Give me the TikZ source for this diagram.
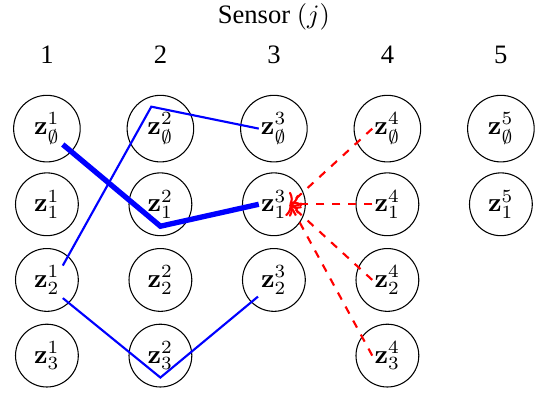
\documentclass[tikz,border=0pt]{standalone}
\usepackage{amssymb}
\usepackage[no-math]{fontspec}
\setmainfont{Liberation Serif}
\usetikzlibrary{positioning, arrows.meta}

\begin{document}
\begin{tikzpicture}[meas/.style={draw, circle, inner sep=3.3pt, minimum size=0.83cm}, clutter/.style={meas, minimum size=0.88cm}]
                \useasboundingbox (-0.62,-3.51) rectangle (6.53,1.70);
                \node (Sensor) at (3,1.48) {Sensor $(j)$};
                \node (col 1) at (0,0.98) {1};
                \node (col 2) at (1.5,0.98) {2};
                \node (col 3) at (3,0.98) {3};
                \node (col 4) at (4.5,0.98) {4};
                \node (col 5) at (6,0.98) {5};

                \node[clutter] (z1-0) at (0,0) {$\mathbf{z}^1_\emptyset$};
                \node[meas] (z1-1) at (0,-1) {$\mathbf{z}^1_1$};
                \node[meas] (z1-2) at (0,-2) {$\mathbf{z}^1_2$};
                \node[meas] (z1-3) at (0,-3) {$\mathbf{z}^1_3$};
                \node[clutter] (z2-0) at (1.5,0) {$\mathbf{z}^2_\emptyset$};
                \node[meas] (z2-1) at (1.5,-1) {$\mathbf{z}^2_1$};
                \node[meas] (z2-2) at (1.5,-2) {$\mathbf{z}^2_2$};
                \node[meas] (z2-3) at (1.5,-3) {$\mathbf{z}^2_3$};
                \node[clutter] (z3-0) at (3,0) {$\mathbf{z}^3_\emptyset$};
                \node[meas] (z3-1) at (3,-1) {$\mathbf{z}^3_1$};
                \node[meas] (z3-2) at (3,-2) {$\mathbf{z}^3_2$};
                \node[clutter] (z4-0) at (4.5,0) {$\mathbf{z}^4_\emptyset$};
                \node[meas] (z4-1) at (4.5,-1) {$\mathbf{z}^4_1$};
                \node[meas] (z4-2) at (4.5,-2) {$\mathbf{z}^4_2$};
                \node[meas] (z4-3) at (4.5,-3) {$\mathbf{z}^4_3$};
                \node[clutter] (z5-0) at (6,0) {$\mathbf{z}^5_\emptyset$};
                \node[meas] (z5-1) at (6,-1) {$\mathbf{z}^5_1$};

                \draw[blue, thick] ([shift={(0.21,0.19)}]z1-2.center) -- ([shift={(-0.12,0.29)}]z2-0.center) -- ([shift={(-0.2,0)}]z3-0.center);
                \draw[blue, thick] ([shift={(0.21,-0.24)}]z1-2.center) -- ([shift={(0,-0.29)}]z2-3.center) -- ([shift={(-0.21,-0.22)}]z3-2.center);
                \draw[blue, line width=2pt] ([shift={(0.21,-0.21)}]z1-0.center) -- ([shift={(0,-0.29)}]z2-1.center) -- ([shift={(-0.2,0)}]z3-1.center);

                \draw[red, thick, dashed, ->] ([shift={(-0.2,0)}]z4-0.center) -- ([shift={(0.21,0)}]z3-1.center);
                \draw[red, thick, dashed, ->] ([shift={(-0.2,0)}]z4-1.center) -- ([shift={(0.21,0)}]z3-1.center);
                \draw[red, thick, dashed, ->] ([shift={(-0.2,0)}]z4-2.center) -- ([shift={(0.21,0)}]z3-1.center);
                \draw[red, thick, dashed, ->] ([shift={(-0.2,0)}]z4-3.center) -- ([shift={(0.21,0)}]z3-1.center);

            \end{tikzpicture}
\end{document}
